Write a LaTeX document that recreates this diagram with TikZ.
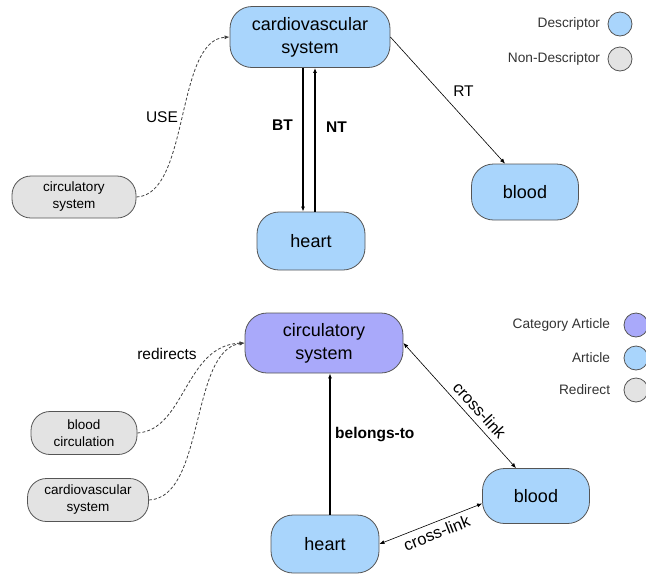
\documentclass[tikz,border=0pt]{standalone}
\usepackage{fontspec}
\setmainfont{Liberation Sans}
\usetikzlibrary{arrows.meta}
\usetikzlibrary{positioning}
\definecolor{descblue}{HTML}{A9D5FC}
\definecolor{redirgray}{HTML}{E3E3E3}
\definecolor{catpurple}{HTML}{A9A9FA}
\definecolor{edgegray}{HTML}{555555}

\begin{document}
\begin{tikzpicture}[x=1pt,y=-1pt,
  term/.style={draw=edgegray,line width=0.8pt,rounded corners=22pt,align=center,inner sep=0pt,font=\fontsize{18}{23}\selectfont},
  desc/.style={term,fill=descblue},
  nondesc/.style={term,fill=redirgray,rounded corners=19pt,font=\fontsize{13.5}{17}\selectfont},
  key/.style={circle,draw=edgegray,line width=0.8pt,minimum size=24pt,inner sep=0pt},
  keytext/.style={font=\fontsize{13.7}{16}\selectfont,text=black!80},
  lbl/.style={font=\fontsize{15.5}{18}\selectfont},
  link/.style={-{Latex[length=5pt,width=4pt]},line width=0.6pt},
  twoway/.style={{Latex[length=5pt,width=4pt]}-{Latex[length=5pt,width=4pt]},line width=0.6pt},
  strong/.style={link,line width=1.8pt},
  use/.style={-{Latex[length=5pt,width=4pt]},dash pattern=on 3pt off 2pt,line width=0.8pt,draw=black!75}]
\useasboundingbox (0,0) rectangle (646,574);

% thesaurus
\node[desc,minimum width=160pt,minimum height=61pt] (cvs) at (310,37) {cardiovascular\\system};
\node[desc,minimum width=108pt,minimum height=58pt] (heart) at (311,241) {heart};
\node[desc,minimum width=107pt,minimum height=56pt] (blood) at (525,192) {blood};
\node[nondesc,minimum width=124pt,minimum height=42pt] (circ) at (74,197) {circulatory\\system};

\node[key,fill=descblue] (kdesc) at (620,24) {};
\node[key,fill=redirgray] (knondesc) at (620,59) {};
\node[keytext,left=4pt of kdesc] {Descriptor};
\node[keytext,left=4pt of knondesc] {Non-Descriptor};

\draw[strong] ([xshift=-7pt]cvs.south) -- node[lbl,font=\bfseries\fontsize{15.5}{18}\selectfont,pos=0.4,left=6pt] {BT} ([xshift=-7pt]cvs.south |- heart.north);
\draw[strong] ([xshift=4pt]heart.north) -- node[lbl,font=\bfseries\fontsize{15.5}{18}\selectfont,pos=0.59,right=7pt] {NT} ([xshift=4pt]heart.north |- cvs.south);
\draw[link] (cvs.east) -- node[lbl,pos=0.43,right=10pt] {RT} ([xshift=-20pt]blood.north);
\draw[use] (circ.east) .. controls (190,195) and (175,40) .. node[lbl,pos=0.5,left=1pt] {USE} (cvs.west);

% wikipedia
\node[term,fill=catpurple,minimum width=158pt,minimum height=60pt] (circw) at (324,343) {circulatory\\system};
\node[desc,minimum width=108pt,minimum height=58pt] (heartw) at (325,544) {heart};
\node[desc,minimum width=107pt,minimum height=55pt] (bloodw) at (536,496) {blood};
\node[nondesc,minimum width=106pt,minimum height=43pt] (bcirc) at (84,433) {blood\\circulation};
\node[nondesc,minimum width=121pt,minimum height=43pt] (cvsw) at (88,500) {cardiovascular\\system};

\node[key,fill=catpurple] (kcat) at (636,325) {};
\node[key,fill=descblue] (kart) at (636,358) {};
\node[key,fill=redirgray] (kredir) at (636,390) {};
\node[keytext,left=10pt of kcat] {Category Article};
\node[keytext,left=10pt of kart] {Article};
\node[keytext,left=10pt of kredir] {Redirect};

\draw[strong] ([xshift=5pt]heartw.north) -- node[lbl,font=\bfseries\fontsize{15.5}{18}\selectfont,pos=0.57,right=1pt] {belongs-to} ([xshift=5pt]heartw.north |- circw.south);
\draw[twoway] (circw.east) -- node[lbl,font=\fontsize{16.5}{18}\selectfont,pos=0.6,sloped,above=2pt] {cross-link} ([xshift=-20pt]bloodw.north);
\draw[twoway] (heartw.east) -- node[lbl,font=\fontsize{16.5}{18}\selectfont,pos=0.52,sloped,below=1pt] {cross-link} (bloodw.188);
\draw[use] (bcirc.east) .. controls (185,430) and (185,345) .. (circw.west);
\draw[use] (cvsw.east) .. controls (205,498) and (190,350) .. (circw.west);
\node[lbl] (redir) at (167,354) {redirects};
\end{tikzpicture}
\end{document}
